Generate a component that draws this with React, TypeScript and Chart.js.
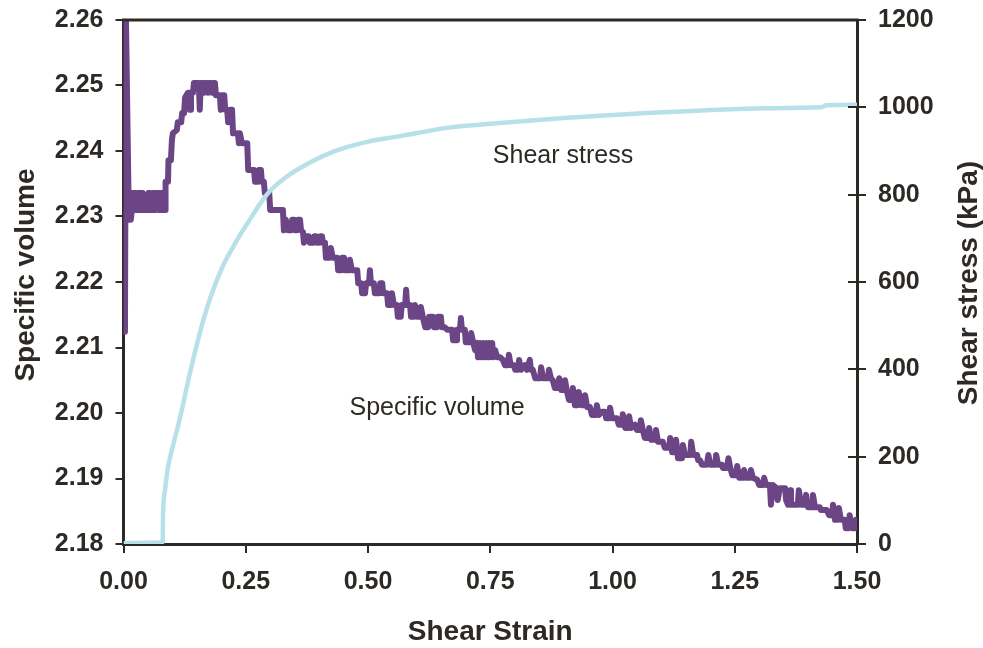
import React, { useEffect, useRef } from "react";
import { Chart, registerables } from "chart.js";

Chart.register(...registerables);

const AXIS = "#2d2925";
const TEXT = "#2d2925";
const PURPLE = "#6b4585";
const BLUE = "#b8e0e8";
const FONT = '"Liberation Sans", Arial, sans-serif';

const strainTicks = [0, 0.25, 0.5, 0.75, 1, 1.25, 1.5];
const volumeTicks = [2.18, 2.19, 2.2, 2.21, 2.22, 2.23, 2.24, 2.25, 2.26];
const stressTicks = [0, 200, 400, 600, 800, 1000, 1200];

const xTitle = "Shear Strain";
const yTitle = "Specific volume";
const y1Title = "Shear stress (kPa)";
const stressLabel = "Shear stress";
const volumeLabel = "Specific volume";

// [shear strain, shear stress kPa]
const stressPoints: [number, number][] = [
  [0, 2], [0.04, 3], [0.08, 4], [0.081, 71], [0.085, 124], [0.091, 176],
  [0.099, 215], [0.116, 291], [0.136, 392], [0.156, 483], [0.177, 562],
  [0.203, 636], [0.224, 680], [0.238, 707], [0.259, 744], [0.279, 779],
  [0.3, 809], [0.33, 838], [0.361, 861], [0.428, 898], [0.498, 921],
  [0.566, 934], [0.661, 953], [0.77, 964], [0.907, 976], [1.071, 987],
  [1.173, 992], [1.308, 998], [1.425, 1000], [1.439, 1005], [1.5, 1006],
];

// [shear strain, specific volume]
const volumePoints: [number, number][] = [
  [0, 2.2124], [0.001, 2.26], [0.003, 2.2124], [0.005, 2.26], [0.011, 2.2295],
  [0.013, 2.2321], [0.015, 2.2295], [0.017, 2.231], [0.019, 2.2336], [0.024, 2.2336],
  [0.025, 2.231], [0.028, 2.231], [0.029, 2.2336], [0.032, 2.2336], [0.033, 2.231],
  [0.035, 2.231], [0.036, 2.2336], [0.038, 2.2336], [0.039, 2.231], [0.05, 2.231],
  [0.051, 2.2336], [0.054, 2.2336], [0.055, 2.231], [0.058, 2.231], [0.059, 2.2336],
  [0.062, 2.2336], [0.063, 2.231], [0.065, 2.231], [0.066, 2.2336], [0.071, 2.2336],
  [0.072, 2.231], [0.075, 2.231], [0.076, 2.2336], [0.079, 2.2336], [0.08, 2.231],
  [0.085, 2.231],
  [0.086, 2.2353], [0.091, 2.2353], [0.092, 2.2386], [0.097, 2.2386], [0.099, 2.2417],
  [0.101, 2.2427], [0.109, 2.2432], [0.111, 2.2444], [0.118, 2.2444], [0.12, 2.2458],
  [0.124, 2.2458], [0.126, 2.2482], [0.132, 2.2489], [0.134, 2.2489], [0.136, 2.2463],
  [0.138, 2.2489], [0.142, 2.2489], [0.144, 2.2504], [0.154, 2.2504], [0.156, 2.2463],
  [0.158, 2.2504], [0.163, 2.2504], [0.165, 2.2489], [0.167, 2.2504], [0.171, 2.2504],
  [0.173, 2.2489], [0.175, 2.2504], [0.179, 2.2504], [0.181, 2.2489], [0.183, 2.2504],
  [0.187, 2.2504], [0.189, 2.2485], [0.197, 2.2485], [0.199, 2.2463], [0.201, 2.2485],
  [0.206, 2.2485], [0.208, 2.2463], [0.212, 2.2463], [0.214, 2.2444], [0.218, 2.2463],
  [0.222, 2.2463], [0.224, 2.2427], [0.234, 2.2427], [0.236, 2.2412], [0.238, 2.2427],
  [0.242, 2.2412], [0.253, 2.2412], [0.255, 2.2371], [0.267, 2.2371], [0.269, 2.2353],
  [0.275, 2.2353], [0.277, 2.2371], [0.281, 2.2371], [0.283, 2.2353], [0.287, 2.2353],
  [0.289, 2.2336], [0.298, 2.2336], [0.3, 2.231], [0.326, 2.231],
  [0.328, 2.2279], [0.332, 2.2295], [0.336, 2.2279], [0.343, 2.2279], [0.345, 2.2295],
  [0.349, 2.2295], [0.351, 2.2279], [0.355, 2.2279], [0.357, 2.2295], [0.361, 2.2295],
  [0.363, 2.2279], [0.367, 2.2276],
  [0.369, 2.226], [0.373, 2.227], [0.379, 2.227], [0.381, 2.226], [0.388, 2.226],
  [0.39, 2.227], [0.394, 2.227], [0.396, 2.226], [0.4, 2.226], [0.402, 2.227],
  [0.406, 2.227], [0.408, 2.226],
  [0.412, 2.226], [0.414, 2.2237], [0.422, 2.2237], [0.424, 2.2252], [0.428, 2.2237],
  [0.437, 2.2237],
  [0.439, 2.2218], [0.445, 2.2218], [0.447, 2.2237], [0.451, 2.2237], [0.453, 2.2218],
  [0.461, 2.2218], [0.463, 2.2234], [0.467, 2.2218], [0.478, 2.2218],
  [0.48, 2.2198], [0.486, 2.2198], [0.488, 2.2183], [0.494, 2.2183], [0.496, 2.2198],
  [0.502, 2.2198], [0.504, 2.2218], [0.506, 2.2198], [0.512, 2.2198], [0.514, 2.2183],
  [0.523, 2.2183], [0.525, 2.2198], [0.529, 2.2198], [0.531, 2.2183], [0.539, 2.2183],
  [0.541, 2.2165], [0.547, 2.2165], [0.549, 2.2183], [0.553, 2.2165], [0.559, 2.2165],
  [0.561, 2.2147], [0.567, 2.2147], [0.569, 2.2165], [0.576, 2.2165], [0.578, 2.2188],
  [0.58, 2.2165], [0.586, 2.2165], [0.588, 2.2147], [0.594, 2.2147], [0.596, 2.2165],
  [0.6, 2.2147], [0.606, 2.2147], [0.608, 2.2162], [0.612, 2.2147],
  [0.617, 2.2131], [0.623, 2.2131], [0.625, 2.2147], [0.633, 2.2147], [0.635, 2.2131],
  [0.641, 2.2131], [0.643, 2.2147], [0.649, 2.2147], [0.651, 2.2131], [0.657, 2.2131],
  [0.662, 2.2127], [0.672, 2.2127], [0.674, 2.2111], [0.68, 2.2111], [0.682, 2.2127],
  [0.688, 2.2127], [0.69, 2.2145], [0.692, 2.2127], [0.698, 2.2127], [0.7, 2.2108],
  [0.709, 2.2108], [0.711, 2.2122], [0.715, 2.2108],
  [0.719, 2.2096], [0.723, 2.2107], [0.725, 2.2085], [0.729, 2.2107], [0.731, 2.2085],
  [0.735, 2.2107], [0.737, 2.2085], [0.741, 2.2107], [0.743, 2.2085], [0.747, 2.2107],
  [0.749, 2.2085], [0.754, 2.2107], [0.756, 2.2085], [0.76, 2.2096], [0.764, 2.2085],
  [0.77, 2.2085], [0.776, 2.2081],
  [0.78, 2.2073], [0.786, 2.2073], [0.788, 2.2089], [0.792, 2.2073], [0.799, 2.2073],
  [0.801, 2.2066], [0.807, 2.2066], [0.809, 2.2081], [0.813, 2.2066], [0.821, 2.2073],
  [0.825, 2.2066], [0.831, 2.2081], [0.833, 2.2066], [0.837, 2.2066],
  [0.842, 2.2053], [0.852, 2.2053], [0.854, 2.207], [0.858, 2.2053], [0.868, 2.2053],
  [0.87, 2.2066], [0.874, 2.2053], [0.878, 2.205],
  [0.882, 2.2038], [0.888, 2.2038], [0.891, 2.2053], [0.895, 2.2035], [0.901, 2.2035],
  [0.903, 2.205], [0.907, 2.2032],
  [0.911, 2.202], [0.917, 2.202], [0.919, 2.2038], [0.923, 2.2012], [0.929, 2.2012],
  [0.931, 2.2032], [0.936, 2.2012], [0.942, 2.2012], [0.944, 2.2027], [0.948, 2.2009],
  [0.954, 2.2009],
  [0.958, 2.1997], [0.966, 2.1997], [0.968, 2.2012], [0.972, 2.1997], [0.979, 2.2002],
  [0.985, 2.2002], [0.987, 2.1992], [0.993, 2.1992], [0.995, 2.2008], [0.999, 2.1992],
  [1.009, 2.1992],
  [1.013, 2.1982], [1.019, 2.1982], [1.021, 2.1998], [1.026, 2.1977], [1.032, 2.1977],
  [1.034, 2.1995], [1.038, 2.1977], [1.046, 2.1982], [1.05, 2.1974], [1.056, 2.1974],
  [1.058, 2.1989], [1.062, 2.1974],
  [1.066, 2.1962], [1.073, 2.1962], [1.075, 2.1977], [1.079, 2.1959], [1.087, 2.1959],
  [1.089, 2.1974], [1.093, 2.1956], [1.103, 2.1956],
  [1.107, 2.1947], [1.116, 2.1947], [1.118, 2.1962], [1.122, 2.194], [1.128, 2.194],
  [1.13, 2.1959], [1.134, 2.1931], [1.142, 2.1931], [1.144, 2.1951], [1.148, 2.1936],
  [1.159, 2.1936], [1.161, 2.1956], [1.165, 2.1936], [1.173, 2.1936], [1.175, 2.1928],
  [1.179, 2.1928],
  [1.183, 2.1921], [1.193, 2.1921], [1.196, 2.1936], [1.2, 2.1921], [1.21, 2.1921],
  [1.212, 2.1936], [1.216, 2.1921], [1.224, 2.1921], [1.226, 2.1916], [1.234, 2.1916],
  [1.237, 2.1931], [1.241, 2.1916],
  [1.245, 2.1905], [1.253, 2.1905], [1.255, 2.1919], [1.259, 2.1901], [1.267, 2.1901],
  [1.269, 2.1913], [1.273, 2.1901], [1.281, 2.1901], [1.283, 2.1913], [1.287, 2.1901],
  [1.296, 2.1898],
  [1.3, 2.189], [1.308, 2.189], [1.31, 2.1901], [1.314, 2.189], [1.322, 2.189],
  [1.324, 2.186], [1.328, 2.189], [1.336, 2.1885], [1.338, 2.1867], [1.342, 2.1885],
  [1.353, 2.1885], [1.355, 2.1867], [1.359, 2.186], [1.363, 2.1882], [1.365, 2.186],
  [1.369, 2.186],
  [1.373, 2.186], [1.379, 2.186], [1.381, 2.1882], [1.386, 2.186], [1.394, 2.186],
  [1.396, 2.1875], [1.4, 2.1856], [1.408, 2.1856], [1.41, 2.1875], [1.414, 2.1856],
  [1.424, 2.1856], [1.426, 2.1852], [1.438, 2.1852],
  [1.443, 2.1844], [1.449, 2.1844], [1.451, 2.186], [1.455, 2.1837], [1.461, 2.1837],
  [1.463, 2.1855], [1.467, 2.1837], [1.475, 2.1837], [1.477, 2.1824], [1.483, 2.1824],
  [1.485, 2.1844], [1.49, 2.1824], [1.496, 2.1824], [1.498, 2.1837], [1.5, 2.1834],
];

const overlay = {
  id: "overlay",
  afterDraw(chart: any) {
    const { ctx, chartArea } = chart;
    const { left, right, top } = chartArea;
    ctx.save();
    // top frame line
    ctx.strokeStyle = AXIS;
    ctx.lineWidth = 3;
    ctx.beginPath();
    ctx.moveTo(left - 1.5, top);
    ctx.lineTo(right + 1.5, top);
    ctx.stroke();
    // inward ticks on right axis
    const y1 = chart.scales.y1;
    ctx.lineWidth = 2;
    ctx.beginPath();
    y1.ticks.forEach((t: any) => {
      const py = Math.round(y1.getPixelForValue(t.value));
      ctx.moveTo(right - 9, py);
      ctx.lineTo(right, py);
    });
    ctx.stroke();
    // titles
    ctx.fillStyle = TEXT;
    ctx.font = `bold 28px ${FONT}`;
    ctx.textAlign = "center";
    ctx.textBaseline = "alphabetic";
    ctx.fillText(xTitle, (left + right) / 2, 640);
    ctx.save();
    ctx.translate(34, 275);
    ctx.rotate(-Math.PI / 2);
    ctx.fillText(yTitle, 0, 0);
    ctx.restore();
    ctx.save();
    ctx.translate(977, 283);
    ctx.rotate(-Math.PI / 2);
    ctx.fillText(y1Title, 0, 0);
    ctx.restore();
    // in-plot labels
    ctx.font = `25px ${FONT}`;
    ctx.fillText(stressLabel, 563, 163);
    ctx.fillText(volumeLabel, 437, 415);
    ctx.restore();
  },
};

export default function App() {
  const ref = useRef<HTMLCanvasElement>(null);
  useEffect(() => {
    const canvas = ref.current!;
    Chart.defaults.font.family = FONT;
    const tickFont = { family: FONT, size: 25, weight: "bold" as const };
    const chart = new Chart(canvas, {
      type: "line",
      data: {
        datasets: [
          {
            label: stressLabel,
            data: stressPoints.map(([x, y]) => ({ x, y })),
            yAxisID: "y1",
            borderColor: BLUE,
            borderWidth: 4.5,
            pointRadius: 0,
            cubicInterpolationMode: "monotone",
            order: 0,
          },
          {
            label: volumeLabel,
            data: volumePoints.map(([x, y]) => ({ x, y })),
            yAxisID: "y",
            borderColor: PURPLE,
            borderWidth: 6,
            pointRadius: 0,
            tension: 0,
            borderJoinStyle: "round",
            borderCapStyle: "round",
            order: 1,
          },
        ],
      },
      options: {
        responsive: false,
        animation: false,
        devicePixelRatio: 1,
        layout: { padding: { top: 20, left: 0, right: 0, bottom: 0 } },
        plugins: { legend: { display: false }, tooltip: { enabled: false } },
        scales: {
          x: {
            type: "linear",
            min: 0,
            max: 1.5,
            afterBuildTicks: (s: any) => {
              s.ticks = strainTicks.map((v) => ({ value: v }));
            },
            afterFit: (s: any) => {
              s.height = 104;
              s.paddingLeft = 0;
              s.paddingRight = 0;
            },
            ticks: {
              callback: (v: any) => Number(v).toFixed(2),
              font: tickFont,
              color: TEXT,
              padding: 14,
              maxRotation: 0,
              autoSkip: false,
            },
            grid: { drawOnChartArea: false, tickLength: 9, color: AXIS, lineWidth: 2 },
            border: { color: AXIS, width: 3 },
          },
          y: {
            type: "linear",
            position: "left",
            min: 2.18,
            max: 2.26,
            afterBuildTicks: (s: any) => {
              s.ticks = volumeTicks.map((v) => ({ value: v }));
            },
            afterFit: (s: any) => {
              s.width = 123.5;
              s.paddingTop = 0;
              s.paddingBottom = 0;
            },
            ticks: {
              callback: (v: any) => Number(v).toFixed(2),
              font: tickFont,
              color: TEXT,
              padding: 12,
              autoSkip: false,
            },
            grid: { drawOnChartArea: false, tickLength: 8, color: AXIS, lineWidth: 2 },
            border: { color: AXIS, width: 3 },
          },
          y1: {
            type: "linear",
            position: "right",
            min: 0,
            max: 1200,
            afterBuildTicks: (s: any) => {
              s.ticks = stressTicks.map((v) => ({ value: v }));
            },
            afterFit: (s: any) => {
              s.width = 126;
              s.paddingTop = 0;
              s.paddingBottom = 0;
            },
            ticks: {
              callback: (v: any) => String(v),
              font: tickFont,
              color: TEXT,
              padding: 12,
              autoSkip: false,
            },
            grid: { drawOnChartArea: false, tickLength: 9, color: AXIS, lineWidth: 2 },
            border: { color: AXIS, width: 3 },
          },
        },
      },
      plugins: [overlay],
    } as any);
    return () => chart.destroy();
  }, []);
  return (
    <div style={{ position: "fixed", left: 0, top: 0, width: 983, height: 648, background: "#fff" }}>
      <canvas ref={ref} width={983} height={648} style={{ display: "block" }} />
    </div>
  );
}
